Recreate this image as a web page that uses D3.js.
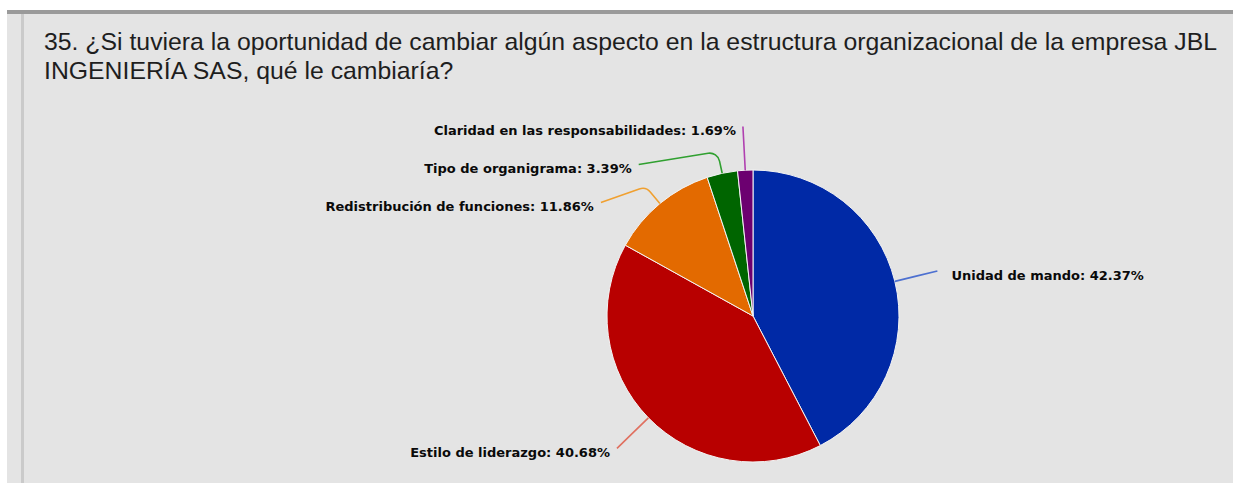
<!DOCTYPE html>
<html>
<head>
	<meta charset="utf-8">
	<style>
		body {
			margin: 0;
			background-color: white;
		}
		svg {
			display: block;
		}
		.title {
			font-family: "Liberation Sans", Arial, sans-serif;
			font-size: 24.8px;
			fill: #1e1e1e;
		}
		.slice-label {
			font-family: "DejaVu Sans", Verdana, sans-serif;
			font-weight: bold;
			font-size: 13px;
			fill: #0a0a0a;
		}
		.leader {
			fill: none;
			stroke-width: 1.6px;
		}
		.slice {
			stroke: #f4f4f4;
			stroke-width: 1px;
		}
	</style>
</head>
<body>
<script src="https://d3js.org/d3.v7.min.js"></script>
<script>
	// data
	var categories = ["Unidad de mando", "Estilo de liderazgo", "Redistribución de funciones", "Tipo de organigrama", "Claridad en las responsabilidades"];
	var values = [42.37, 40.68, 11.86, 3.39, 1.69];
	var sliceColors = ["#0029a6", "#b80000", "#e36a00", "#006500", "#6c0070"];
	var lineColors = ["#4d70d0", "#e07060", "#f0a030", "#30a030", "#b040b0"];
	var titleLines = ["35. ¿Si tuviera la oportunidad de cambiar algún aspecto en la estructura organizacional de la empresa JBL",
		"INGENIERÍA SAS, qué le cambiaría?"];

	var width = 1233, height = 483;
	var cx = 753, cy = 316, radius = 146,
		elbowRadius = radius + 22,
		labelRadius = radius * 1.3,
		labelSpacing = 38;

	var svg = d3.select("body").append("svg")
			.attr("width", width)
			.attr("height", height);

	// panel background with the top and left rules
	svg.append("rect")
			.attr("x", 7).attr("y", 10)
			.attr("width", width - 7).attr("height", height - 10)
			.attr("fill", "#e4e4e4");
	svg.append("rect")
			.attr("x", 7).attr("y", 10)
			.attr("width", width - 7).attr("height", 4)
			.attr("fill", "#9a9a9a");
	svg.append("rect")
			.attr("x", 21).attr("y", 14)
			.attr("width", 3).attr("height", height - 14)
			.attr("fill", "#cacaca");

	svg.selectAll(".title")
			.data(titleLines)
		.enter().append("text")
			.attr("class", "title")
			.attr("x", 44)
			.attr("y", function(d, i) { return 50 + i * 29; })
			.text(function(d) { return d; });

	var table = categories.map(function(c, i) {
		return {name: c, value: values[i], color: sliceColors[i], line: lineColors[i]};
	});

	var pie = d3.pie()
			.sort(null)
			.value(function(d) { return d.value; });
	var arc = d3.arc()
			.innerRadius(0)
			.outerRadius(radius);
	var arcs = pie(table);

	var g = svg.append("g")
			.attr("transform", "translate(" + cx + "," + cy + ")");

	g.selectAll(".slice")
			.data(arcs)
		.enter().append("path")
			.attr("class", "slice")
			.attr("d", arc)
			.attr("fill", function(d) { return d.data.color; });

	// label layout: anchors on a circle, pushed apart on each side
	arcs.forEach(function(d) {
		d.mid = (d.startAngle + d.endAngle) / 2;
		d.right = Math.sin(d.mid) >= 0;
		d.ay = -labelRadius * Math.cos(d.mid);
	});
	["left", "right"].forEach(function(side) {
		var list = arcs.filter(function(d) { return (side == "right") == d.right; })
			.sort(function(a, b) { return a.ay - b.ay; });
		for (var i = 1; i < list.length; i++) {
			list[i].ay = Math.max(list[i].ay, list[i - 1].ay + labelSpacing);
		}
	});
	arcs.forEach(function(d) {
		var dy = Math.max(-labelRadius, Math.min(labelRadius, d.ay));
		var dx = Math.sqrt(labelRadius * labelRadius - dy * dy);
		d.ax = d.right ? dx : -dx;
	});

	function leaderPath(d) {
		var p = d3.path();
		var ex = radius * Math.sin(d.mid), ey = -radius * Math.cos(d.mid);
		var mx = elbowRadius * Math.sin(d.mid), my = -elbowRadius * Math.cos(d.mid);
		p.moveTo(ex, ey);
		p.arcTo(mx, my, d.ax, d.ay, 10);
		p.lineTo(d.ax, d.ay);
		return p.toString();
	}

	g.selectAll(".leader")
			.data(arcs)
		.enter().append("path")
			.attr("class", "leader")
			.attr("d", leaderPath)
			.attr("stroke", function(d) { return d.data.line; });

	var fmt = d3.format(".2f");
	g.selectAll(".slice-label")
			.data(arcs)
		.enter().append("text")
			.attr("class", "slice-label")
			.attr("x", function(d) { return d.right ? d.ax + 14 : d.ax - 7; })
			.attr("y", function(d) { return d.ay + 9; })
			.attr("text-anchor", function(d) { return d.right ? "start" : "end"; })
			.text(function(d) { return d.data.name + ": " + fmt(d.data.value) + "%"; });
</script>
</body>
</html>
